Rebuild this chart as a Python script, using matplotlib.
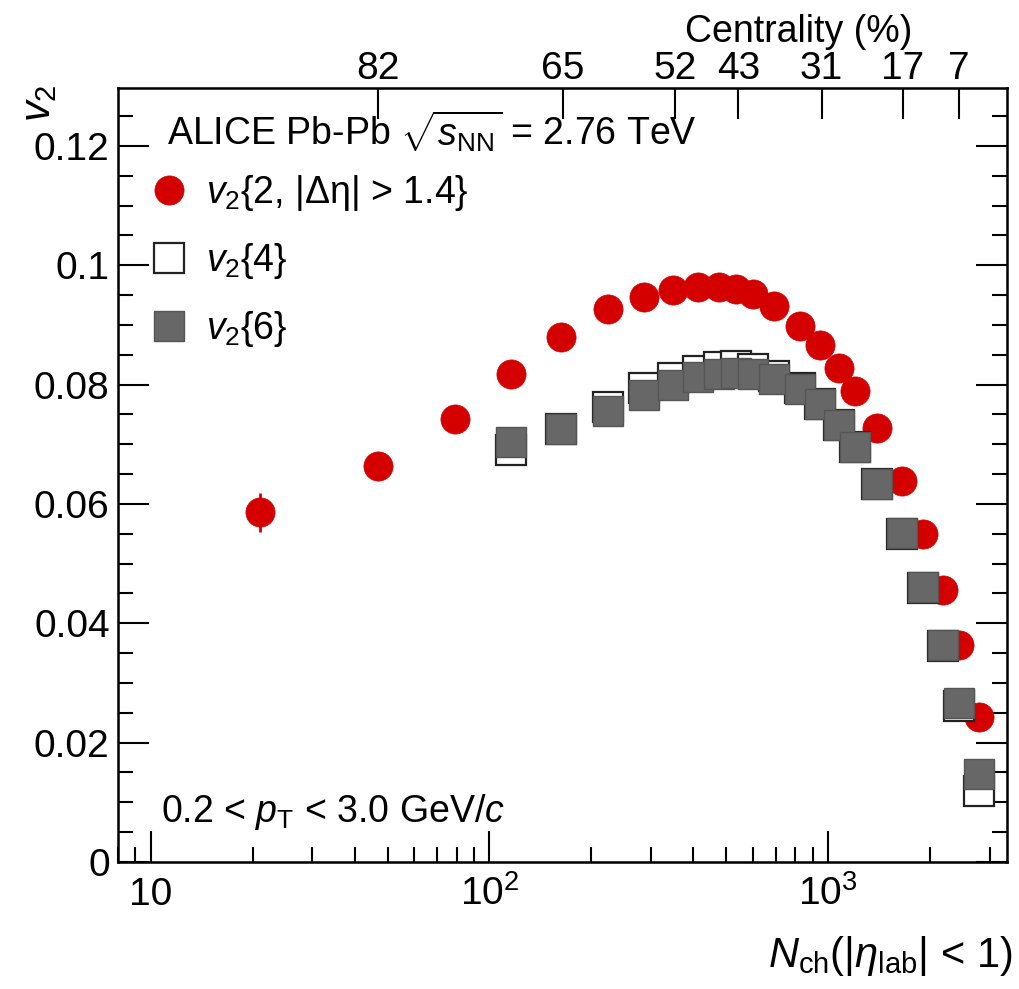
import numpy as np
import matplotlib.pyplot as plt
from matplotlib.lines import Line2D
from matplotlib.ticker import LogLocator, MultipleLocator, NullLocator, NullFormatter

plt.rcParams['font.family'] = ['Liberation Sans', 'DejaVu Sans']
plt.rcParams['mathtext.fontset'] = 'custom'
plt.rcParams['mathtext.rm'] = 'Liberation Sans'
plt.rcParams['mathtext.it'] = 'Liberation Sans:italic'
plt.rcParams['mathtext.bf'] = 'Liberation Sans:bold'

# v2{2, |deta| > 1.4}
nch_v22 = [21, 47, 79, 116, 163, 224, 286, 349, 413, 477, 536, 602, 694, 824,
           944, 1078, 1202, 1397, 1656, 1911, 2191, 2428, 2782]
v22 = [0.0586, 0.0664, 0.0743, 0.0817, 0.0879, 0.0926, 0.0946, 0.0958, 0.0963,
       0.0963, 0.0960, 0.0951, 0.0931, 0.0899, 0.0867, 0.0827, 0.0790, 0.0727,
       0.0638, 0.0549, 0.0456, 0.0364, 0.0243]
v22_err = [0.0033, 0.0008, 0.0006, 0.0005, 0.0004, 0.0004, 0.0004, 0.0004, 0.0004,
           0.0004, 0.0004, 0.0004, 0.0004, 0.0004, 0.0004, 0.0004, 0.0004, 0.0004,
           0.0004, 0.0004, 0.0004, 0.0004, 0.0004]

# v2{4} and v2{6}
nch_v2m = [116, 163, 224, 286, 349, 413, 477, 536, 602, 694, 824, 944, 1078, 1202,
           1397, 1656, 1911, 2191, 2428, 2782]
v24 = [0.0691, 0.0725, 0.0763, 0.0794, 0.0811, 0.0822, 0.0830, 0.0832, 0.0826,
       0.0815, 0.0795, 0.0767, 0.0732, 0.0695, 0.0634, 0.0550, 0.0460, 0.0362,
       0.0262, 0.0119]
v26 = [0.0703, 0.0725, 0.0755, 0.0782, 0.0800, 0.0812, 0.0818, 0.0820, 0.0817,
       0.0810, 0.0793, 0.0767, 0.0732, 0.0695, 0.0634, 0.0552, 0.0461, 0.0364,
       0.0267, 0.0148]

# centrality axis
cent_nch = [47, 165, 353, 543, 957, 1663, 2428]
cent_labels = ['82', '65', '52', '43', '31', '17', '7']

red = '#d40000'
gray = '#676767'
fs = 27

fig = plt.figure(figsize=(10.2, 9.89), dpi=100)
ax = fig.add_axes([0.1157, 0.1284, 0.8713, 0.7826])

ax.errorbar(nch_v22, v22, yerr=v22_err, fmt='o', color=red, ms=21, mew=0.5,
            elinewidth=2, capsize=0, zorder=2)
ax.plot(nch_v2m, v24, 's', ms=21.5, mfc='white', mec='#222222', mew=1.6, zorder=3)
ax.plot(nch_v2m, v26, 's', ms=21.5, mfc=gray, mec='#555555', mew=1.0, zorder=4)

ax.set_xscale('log')
ax.set_xlim(8, 3370)
ax.set_ylim(0, 0.1297)

ax.set_xticks([10, 100, 1000])
ax.set_xticklabels(['10', r'$10^{2}$', r'$10^{3}$'])
ax.xaxis.set_minor_locator(LogLocator(base=10, subs=np.arange(2, 10)))
ax.xaxis.set_minor_formatter(NullFormatter())
ax.set_yticks(np.arange(0, 0.121, 0.02))
ax.set_yticklabels(['0', '0.02', '0.04', '0.06', '0.08', '0.1', '0.12'])
ax.yaxis.set_minor_locator(MultipleLocator(0.005))

ax.tick_params(axis='both', which='both', direction='in', width=1.5)
ax.tick_params(axis='both', which='major', length=22, labelsize=28)
ax.tick_params(axis='both', which='minor', length=11)
ax.tick_params(axis='y', which='both', right=True, pad=6)
ax.tick_params(axis='x', which='both', top=False, pad=31)
for lbl in ax.get_xticklabels():
    lbl.set_verticalalignment('baseline')
for s in ax.spines.values():
    s.set_linewidth(1.8)

ax2 = ax.twiny()
ax2.set_xscale('log')
ax2.set_xlim(ax.get_xlim())
ax2.set_xticks(cent_nch)
ax2.set_xticklabels(cent_labels)
ax2.xaxis.set_minor_locator(NullLocator())
ax2.tick_params(axis='x', direction='in', length=22, width=1.5, labelsize=28, pad=1)

ax.set_xlabel(r'$N_{\rm ch}$(|$\eta_{\rm lab}$| < 1)', fontsize=30, loc='right')
ax.xaxis.set_label_coords(1.006, -0.093)
ax.set_ylabel(r'$v_2$', fontsize=30, loc='top')
ax.yaxis.set_label_coords(-0.066, 1.004)

fig.text(912 / 1020, 1 - 42 / 989, 'Centrality (%)', fontsize=fs, ha='right', va='baseline')

ax.text(0.055, 0.925, r'ALICE Pb-Pb $\sqrt{s_{\rm NN}}$ = 2.76 TeV', fontsize=fs,
        transform=ax.transAxes, ha='left', va='baseline')
ax.text(0.048, 0.052, r'0.2 < $p_{\rm T}$ < 3.0 GeV/$c$', fontsize=fs,
        transform=ax.transAxes, ha='left', va='baseline')

handles = [
    Line2D([], [], ls='none', marker='o', ms=21, color=red, mew=0.5),
    Line2D([], [], ls='none', marker='s', ms=21.5, mfc='white', mec='#222222', mew=1.6),
    Line2D([], [], ls='none', marker='s', ms=21.5, mfc=gray, mec='#555555', mew=1.0),
]
labels = [r'$v_2${2, |Δη| > 1.4}', r'$v_2${4}', r'$v_2${6}']
ax.legend(handles, labels, loc='upper left', bbox_to_anchor=(0.036, 0.890),
          frameon=False, fontsize=fs, handlelength=1.0, handletextpad=0.5,
          borderpad=0, borderaxespad=0, labelspacing=0.75, numpoints=1)

fig.savefig('out.png', dpi=100)
